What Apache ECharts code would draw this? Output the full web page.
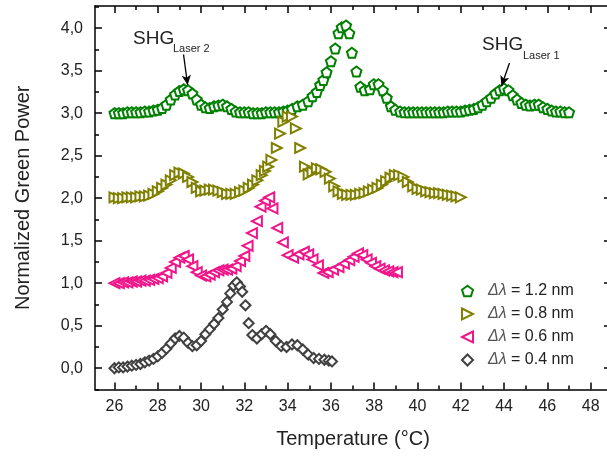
<!DOCTYPE html>
<html>
<head>
<meta charset="utf-8">
<script src="https://cdn.jsdelivr.net/npm/echarts@6/dist/echarts.min.js"></script>
<style>
  html, body { margin: 0; padding: 0; background: #fff; overflow: hidden; }
  #chart { width: 611px; height: 457px; }
</style>
</head>
<body>
<div id="chart"></div>
<script>
// temperatures (°C) and normalized green power
var tGreen = [26.0,26.2,26.4,26.6,26.8,27.0,27.2,27.4,27.6,27.8,28.0,28.2,28.4,28.6,28.8,29.0,29.2,29.4,29.6,29.8,
  30.0,30.2,30.4,30.6,30.8,31.0,31.2,31.4,31.6,31.8,32.0,32.2,32.4,32.6,32.8,33.0,33.2,33.4,33.6,33.8,
  34.0,34.2,34.45,34.7,34.95,35.15,35.35,35.5,35.65,35.8,36.0,36.2,36.35,36.5,36.7,36.85,36.97,37.18,37.36,37.56,
  37.8,37.98,38.2,38.4,38.58,38.77,38.97,39.2,39.4,39.6,39.8,40.0,40.2,40.4,40.6,40.8,41.0,41.2,41.4,41.6,
  41.8,42.0,42.2,42.4,42.6,42.8,43.0,43.2,43.4,43.6,43.8,44.0,44.2,44.4,44.6,44.8,45.0,45.2,45.4,45.6,
  45.8,46.0,46.2,46.4,46.6,46.8,47.0];
var pGreen = [3.00,3.00,3.00,3.01,3.01,3.01,3.01,3.02,3.02,3.03,3.04,3.06,3.10,3.16,3.22,3.26,3.28,3.27,3.23,3.16,
  3.10,3.07,3.06,3.08,3.09,3.10,3.08,3.05,3.02,3.01,3.01,3.01,3.00,3.00,3.00,3.01,3.01,3.01,3.01,3.02,
  3.03,3.05,3.08,3.10,3.14,3.20,3.25,3.33,3.39,3.48,3.61,3.76,3.94,4.01,4.03,3.94,3.71,3.49,3.31,3.27,
  3.28,3.34,3.34,3.27,3.18,3.08,3.04,3.02,3.01,3.01,3.01,3.01,3.01,3.01,3.01,3.01,3.01,3.01,3.02,3.02,
  3.02,3.02,3.03,3.04,3.05,3.07,3.10,3.14,3.18,3.23,3.27,3.29,3.27,3.21,3.16,3.12,3.10,3.09,3.10,3.10,
  3.07,3.05,3.03,3.02,3.02,3.01,3.01];

var tOlive = [26.0,26.2,26.4,26.6,26.8,27.0,27.2,27.4,27.6,27.8,28.0,28.2,28.4,28.6,28.8,29.0,29.2,29.4,29.6,29.8,
  30.0,30.2,30.4,30.6,30.8,31.0,31.2,31.4,31.6,31.8,32.0,32.2,32.4,32.6,32.8,32.95,33.1,33.25,33.5,33.65,
  33.8,34.0,34.2,34.38,34.58,34.8,34.97,35.15,35.35,35.55,35.75,35.95,36.15,36.35,36.55,36.75,36.95,37.15,37.35,37.55,
  37.75,37.95,38.15,38.35,38.55,38.75,38.95,39.15,39.35,39.55,39.8,40.0,40.2,40.4,40.6,40.8,41.0,41.2,41.4,41.6,
  41.8,42.0];
var pOlive = [2.01,2.00,2.00,2.01,2.01,2.01,2.02,2.02,2.03,2.05,2.08,2.12,2.16,2.21,2.27,2.30,2.29,2.25,2.19,2.12,
  2.08,2.09,2.10,2.10,2.09,2.07,2.05,2.05,2.05,2.07,2.09,2.12,2.16,2.21,2.27,2.32,2.37,2.45,2.59,2.76,
  2.90,2.96,2.96,2.82,2.59,2.37,2.28,2.31,2.35,2.34,2.31,2.23,2.14,2.08,2.05,2.04,2.04,2.04,2.05,2.06,
  2.08,2.10,2.12,2.16,2.20,2.24,2.27,2.27,2.25,2.19,2.14,2.11,2.10,2.08,2.07,2.06,2.06,2.05,2.04,2.03,
  2.02,2.01];

var tPink = [26.0,26.2,26.4,26.6,26.8,27.0,27.2,27.4,27.6,27.8,28.0,28.2,28.4,28.6,28.8,29.0,29.2,29.4,29.6,29.8,
  30.0,30.2,30.4,30.6,30.8,31.0,31.2,31.4,31.6,31.8,32.0,32.15,32.35,32.58,32.75,32.95,33.15,33.3,33.52,33.78,
  34.0,34.25,34.5,34.75,34.95,35.15,35.4,35.65,35.85,36.1,36.35,36.6,36.85,37.05,37.25,37.45,37.65,37.85,38.05,38.25,
  38.45,38.65,38.85,39.05];
var pPink = [1.00,1.00,1.01,1.01,1.02,1.02,1.03,1.03,1.04,1.05,1.06,1.08,1.12,1.18,1.25,1.30,1.32,1.28,1.20,1.13,
  1.09,1.08,1.10,1.13,1.15,1.16,1.16,1.17,1.20,1.26,1.32,1.44,1.59,1.73,1.90,1.97,2.01,1.88,1.65,1.48,
  1.33,1.30,1.34,1.37,1.34,1.28,1.21,1.12,1.13,1.16,1.19,1.23,1.27,1.31,1.35,1.33,1.28,1.24,1.20,1.17,
  1.15,1.14,1.13,1.13];

var tGray = [26.0,26.2,26.4,26.6,26.8,27.0,27.2,27.4,27.6,27.8,28.0,28.2,28.4,28.6,28.8,29.0,29.2,29.4,29.6,29.8,
  30.0,30.2,30.4,30.6,30.8,31.0,31.2,31.35,31.5,31.65,31.8,31.9,32.05,32.2,32.37,32.58,32.8,33.0,33.2,33.45,
  33.7,33.95,34.2,34.45,34.7,34.95,35.2,35.45,35.7,35.9,36.05];
var pGray = [0.00,0.01,0.01,0.02,0.03,0.04,0.05,0.07,0.09,0.11,0.14,0.18,0.23,0.29,0.35,0.38,0.36,0.30,0.26,0.27,
  0.32,0.40,0.46,0.52,0.59,0.69,0.78,0.88,0.97,1.01,0.96,0.90,0.74,0.53,0.39,0.35,0.40,0.44,0.40,0.32,
  0.26,0.25,0.28,0.27,0.22,0.16,0.12,0.11,0.10,0.09,0.08];

var seriesNames = ['\u0394\u03bb = 1.2 nm', '\u0394\u03bb = 0.8 nm', '\u0394\u03bb = 0.6 nm', '\u0394\u03bb = 0.4 nm'];
var xMajor = [26, 28, 30, 32, 34, 36, 38, 40, 42, 44, 46, 48];
var xMinor = [27, 29, 31, 33, 35, 37, 39, 41, 43, 45, 47];
var yMajor = [0, 0.5, 1, 1.5, 2, 2.5, 3, 3.5, 4];
var yMinor = [-0.25, 0.25, 0.75, 1.25, 1.75, 2.25, 2.75, 3.25, 3.75, 4.25];

function pairs(t, p) {
  return t.map(function (v, i) { return [v, p[i]]; });
}

var pentagon = 'path://M0,-10L9.51,-3.09L5.88,8.09L-5.88,8.09L-9.51,-3.09Z';
var triRight = 'path://M0,0L10,5L0,10Z';
var triLeft = 'path://M10,0L0,5L10,10Z';
var font = 'Liberation Sans, Arial, sans-serif';

// the chart is 4px wider than the window: the right frame sits just off-screen, as in the original
var myChart = echarts.init(document.getElementById('chart'));

var X_MIN = 25.1, X_MAX = 48.94, Y_MIN = -0.25, Y_MAX = 4.26;

function xAx(pos, ticks, len, showLine, showLabel) {
  return {
    type: 'value', position: pos, min: X_MIN, max: X_MAX,
    axisLine: { show: showLine, onZero: false, lineStyle: { color: '#000', width: 1.5 } },
    axisTick: { show: true, inside: true, length: len, customValues: ticks, lineStyle: { color: '#000', width: 1.5 } },
    axisLabel: { show: showLabel, customValues: ticks, margin: 9, color: '#222', fontSize: 16, fontFamily: font },
    splitLine: { show: false }
  };
}
function yAx(pos, ticks, len, showLine, showLabel) {
  return {
    type: 'value', position: pos, min: Y_MIN, max: Y_MAX,
    axisLine: { show: showLine, onZero: false, lineStyle: { color: '#000', width: 1.5 } },
    axisTick: { show: true, inside: true, length: len, customValues: ticks, lineStyle: { color: '#000', width: 1.5 } },
    axisLabel: { show: showLabel, customValues: ticks, margin: 12, color: '#222', fontSize: 16, fontFamily: font,
      formatter: function (v) { return v.toFixed(1).replace('.', ','); } },
    splitLine: { show: false }
  };
}

var xAxes = [
  xAx('bottom', xMajor, 7, true, true),
  xAx('bottom', xMinor, 4, false, false),
  xAx('top', xMajor, 7, true, false),
  xAx('top', xMinor, 4, false, false)
];
xAxes[0].name = 'Temperature (\u00b0C)';
xAxes[0].nameLocation = 'middle';
xAxes[0].nameGap = 40;
xAxes[0].nameTextStyle = { color: '#222', fontSize: 20, fontFamily: font };

var yAxes = [
  yAx('left', yMajor, 7, true, true),
  yAx('left', yMinor, 4, false, false),
  yAx('right', yMajor, 7, true, false),
  yAx('right', yMinor, 4, false, false)
];
yAxes[0].name = 'Normalized Green Power';
yAxes[0].nameLocation = 'middle';
yAxes[0].nameGap = 62;
yAxes[0].nameTextStyle = { color: '#222', fontSize: 20, fontFamily: font };

function scat(name, data, symbol, color, size) {
  return {
    name: name, type: 'scatter', data: data,
    symbol: symbol, symbolSize: size,
    itemStyle: { color: '#fff', borderColor: color, borderWidth: 2, opacity: 1 },
    emphasis: { disabled: true },
    animation: false
  };
}

var sGreen = scat(seriesNames[0], pairs(tGreen, pGreen), pentagon, '#008000', 10);
sGreen.markLine = {
  silent: true, animation: false,
  symbol: ['none', 'arrow'], symbolSize: [7, 10],
  label: { show: false },
  lineStyle: { color: '#000', width: 1.3, type: 'solid' },
  data: [
    [{ coord: [29.19, 3.69] }, { coord: [29.38, 3.33] }],
    [{ coord: [44.25, 3.59] }, { coord: [43.88, 3.32] }]
  ]
};

option = {
  backgroundColor: '#fff',
  grid: { left: 95, right: 0, top: 6, bottom: 67.5 },
  xAxis: xAxes,
  yAxis: yAxes,
  legend: {
    orient: 'vertical', left: 456, top: 278,
    itemWidth: 11, itemHeight: 11, itemGap: 7,
    data: [
      { name: seriesNames[0], icon: pentagon },
      { name: seriesNames[1], icon: triRight },
      { name: seriesNames[2], icon: triLeft },
      { name: seriesNames[3], icon: 'diamond' }
    ],
    itemStyle: { borderWidth: 2 },
    textStyle: { color: '#222', fontSize: 16, lineHeight: 16, fontFamily: font, padding: [0, 0, 0, 10],
      rich: { i: { fontStyle: 'italic', fontSize: 16, lineHeight: 16, fontFamily: font, color: '#555' } } },
    formatter: function (name) { return '{i|' + name.slice(0, 2) + '}' + name.slice(2); }
  },
  graphic: [
    { type: 'text', left: 133, top: 29, style: { text: 'SHG', fontSize: 19, fontFamily: font, fill: '#222' } },
    { type: 'text', left: 173, top: 43, style: { text: 'Laser 2', fontSize: 11, fontFamily: font, fill: '#222' } },
    { type: 'text', left: 482, top: 35, style: { text: 'SHG', fontSize: 19, fontFamily: font, fill: '#222' } },
    { type: 'text', left: 523, top: 50, style: { text: 'Laser 1', fontSize: 11, fontFamily: font, fill: '#222' } }
  ],
  series: [
    sGreen,
    scat(seriesNames[1], pairs(tOlive, pOlive), triRight, '#808000', 10),
    scat(seriesNames[2], pairs(tPink, pPink), triLeft, '#f0168a', 10),
    scat(seriesNames[3], pairs(tGray, pGray), 'diamond', '#404040', 10)
  ]
};
myChart.setOption(option);
</script>
</body>
</html>
